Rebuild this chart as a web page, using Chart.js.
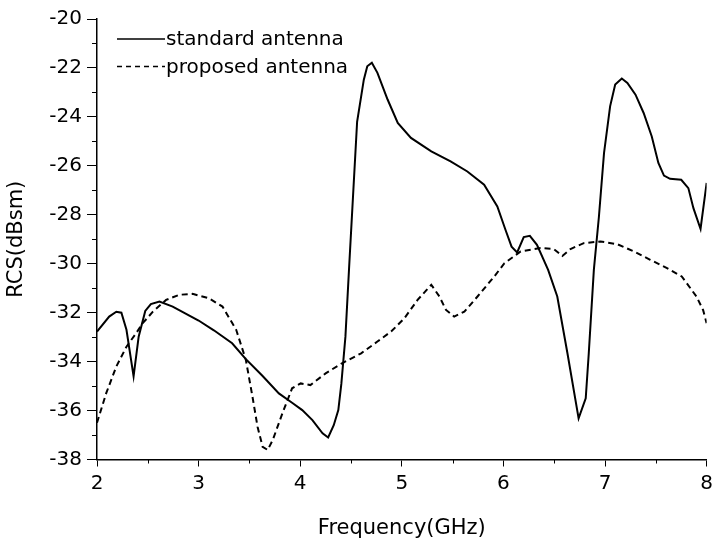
<!DOCTYPE html>
<html>
<head>
<meta charset="utf-8">
<script src="https://cdn.jsdelivr.net/npm/chart.js@4"></script>
<style>
  html, body { margin: 0; padding: 0; background: #fff; }
  #wrap { width: 718px; height: 545px; }
</style>
</head>
<body>
<div id="wrap"><canvas id="grafico"></canvas></div>
<script>
// standard antenna (solid)
const stdFreq = [2.0, 2.12, 2.19, 2.24, 2.29, 2.36, 2.41, 2.475, 2.53, 2.615, 2.745, 3.0, 3.15, 3.33, 3.465, 3.63, 3.79, 3.92, 4.02, 4.12, 4.22, 4.275, 4.33, 4.375, 4.405, 4.445, 4.48, 4.56, 4.626, 4.66, 4.705, 4.76, 4.86, 4.96, 5.09, 5.29, 5.48, 5.645, 5.81, 5.94, 6.02, 6.08, 6.135, 6.2, 6.26, 6.33, 6.44, 6.53, 6.63, 6.74, 6.81, 6.84, 6.89, 6.94, 6.99, 7.05, 7.1, 7.165, 7.22, 7.3, 7.38, 7.46, 7.525, 7.58, 7.64, 7.75, 7.82, 7.87, 7.94, 8.0];
const stdRcs = [-32.77, -32.16, -31.96, -32.0, -32.7, -34.6, -32.98, -31.93, -31.65, -31.55, -31.75, -32.32, -32.72, -33.25, -33.9, -34.59, -35.3, -35.68, -35.98, -36.39, -36.93, -37.1, -36.6, -35.98, -34.9, -32.98, -30.25, -24.2, -22.48, -21.93, -21.79, -22.2, -23.29, -24.25, -24.86, -25.41, -25.82, -26.23, -26.77, -27.66, -28.61, -29.3, -29.54, -28.91, -28.86, -29.23, -30.25, -31.34, -33.66, -36.32, -35.5, -33.66, -30.25, -28.07, -25.48, -23.57, -22.68, -22.43, -22.61, -23.09, -23.84, -24.8, -25.88, -26.4, -26.53, -26.57, -26.91, -27.73, -28.58, -26.7];

// proposed antenna (dashed)
const propFreq = [2.0, 2.09, 2.19, 2.29, 2.385, 2.45, 2.55, 2.68, 2.81, 2.94, 3.1, 3.235, 3.37, 3.465, 3.53, 3.58, 3.63, 3.68, 3.73, 3.825, 3.92, 4.005, 4.1, 4.25, 4.41, 4.6, 4.76, 4.895, 5.025, 5.155, 5.29, 5.37, 5.435, 5.515, 5.615, 5.745, 5.91, 6.01, 6.17, 6.365, 6.495, 6.58, 6.66, 6.79, 6.955, 7.12, 7.285, 7.445, 7.61, 7.755, 7.9, 7.965, 8.0];
const propRcs = [-36.5, -35.3, -34.2, -33.39, -32.84, -32.43, -31.96, -31.48, -31.27, -31.23, -31.41, -31.75, -32.7, -33.93, -35.43, -36.66, -37.48, -37.61, -37.2, -36.11, -35.09, -34.89, -34.96, -34.48, -34.07, -33.66, -33.18, -32.77, -32.23, -31.48, -30.86, -31.34, -31.89, -32.16, -31.96, -31.34, -30.52, -29.98, -29.5, -29.36, -29.4, -29.68, -29.4, -29.16, -29.09, -29.2, -29.5, -29.84, -30.18, -30.52, -31.34, -31.89, -32.43];

const seriesNames = ['standard antenna', 'proposed antenna'];
const xTitle = 'Frequency(GHz)';
const yTitle = 'RCS(dBsm)';

const FONT = "'DejaVu Sans', sans-serif";

function toPoints(xs, ys) {
  return xs.map((x, i) => ({ x: x, y: ys[i] }));
}

// minor ticks + legend inside the plot
const extras = {
  id: 'extras',
  afterDraw(chart) {
    const ctx = chart.ctx;
    const area = chart.chartArea;
    const xs = chart.scales.x;
    const ys = chart.scales.y;
    ctx.save();
    ctx.strokeStyle = '#000';
    ctx.lineWidth = 1;
    for (let v = -37; v < -20; v += 2) {
      const py = Math.round(ys.getPixelForValue(v)) + 0.5;
      ctx.beginPath();
      ctx.moveTo(area.left - 5, py);
      ctx.lineTo(area.left, py);
      ctx.stroke();
    }
    for (let f = 2.5; f < 8; f += 1) {
      const px = Math.round(xs.getPixelForValue(f)) + 0.5;
      ctx.beginPath();
      ctx.moveTo(px, area.bottom);
      ctx.lineTo(px, area.bottom + 4);
      ctx.stroke();
    }

    // legend
    const dashes = [[], [5, 4]];
    ctx.font = '20px ' + FONT;
    ctx.fillStyle = '#000';
    ctx.textBaseline = 'middle';
    ctx.lineWidth = 1.5;
    seriesNames.forEach((name, i) => {
      const ly = area.top + 20 + i * 27.5;
      ctx.setLineDash(dashes[i]);
      ctx.beginPath();
      ctx.moveTo(area.left + 20, ly);
      ctx.lineTo(area.left + 68, ly);
      ctx.stroke();
      ctx.setLineDash([]);
      ctx.fillText(name, area.left + 69, ly + 1);
    });
    ctx.restore();
  }
};

const ctx = document.getElementById('grafico').getContext('2d');

new Chart(ctx, {
  type: 'line',
  data: {
    datasets: [
      {
        label: seriesNames[0],
        data: toPoints(stdFreq, stdRcs),
        borderColor: '#000',
        borderWidth: 2,
        pointRadius: 0,
        fill: false,
        tension: 0
      },
      {
        label: seriesNames[1],
        data: toPoints(propFreq, propRcs),
        borderColor: '#000',
        borderWidth: 2,
        borderDash: [6, 4],
        pointRadius: 0,
        fill: false,
        tension: 0
      }
    ]
  },
  options: {
    responsive: true,
    maintainAspectRatio: false,
    animation: false,
    devicePixelRatio: 1,
    layout: { padding: { top: 19, right: 9, left: 0, bottom: 0 } },
    plugins: {
      legend: { display: false },
      tooltip: { enabled: false }
    },
    scales: {
      x: {
        type: 'linear',
        min: 2,
        max: 8,
        afterFit: (s) => { s.height = 85.5; },
        border: { display: true, color: '#000', width: 1.5 },
        grid: { drawOnChartArea: false, color: '#000', tickLength: 7, tickWidth: 1 },
        ticks: { stepSize: 1, color: '#000', padding: 5, font: { family: FONT, size: 20 } },
        title: { display: true, text: xTitle, color: '#000', padding: { top: 12 }, font: { family: FONT, size: 21 } }
      },
      y: {
        min: -38,
        max: -20,
        afterFit: (s) => { s.width = 97; },
        border: { display: true, color: '#000', width: 1.5 },
        grid: { drawOnChartArea: false, color: '#000', tickLength: 10, tickWidth: 1 },
        ticks: { stepSize: 2, color: '#000', padding: 5, font: { family: FONT, size: 20 } },
        title: { display: true, text: yTitle, color: '#000', padding: { bottom: 4 }, font: { family: FONT, size: 21 } }
      }
    }
  },
  plugins: [extras]
});
</script>
</body>
</html>
